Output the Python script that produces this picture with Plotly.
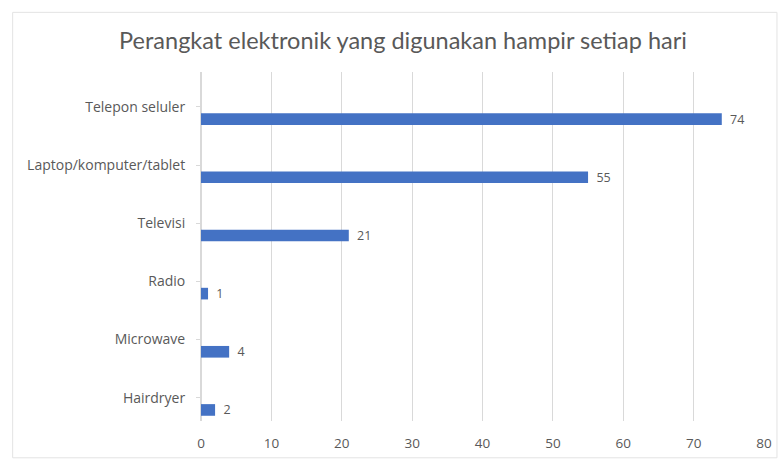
import plotly.graph_objects as go

# Device usage data (percent of respondents)
categories = ["Telepon seluler", "Laptop/komputer/tablet", "Televisi", "Radio", "Microwave", "Hairdryer"]
values = [74, 55, 21, 1, 4, 2]
x_ticks = [0, 10, 20, 30, 40, 50, 60, 70, 80]

title_text = "Perangkat elektronik yang digunakan hampir setiap hari"
bar_color = "#4472C4"
text_gray = "#595959"

positions = list(range(len(categories)))
bar_pos = [p + 0.31 for p in positions]     # bar sits in lower part of each slot
label_pos = [p + 0.1 for p in positions]

fig = go.Figure(
    go.Bar(
        x=values,
        y=bar_pos,
        orientation="h",
        width=0.2,
        marker=dict(color=bar_color, line=dict(width=0)),
        text=[str(v) for v in values],
        texttemplate="\u2009 %{text}",
        textposition="outside",
        constraintext="none",
        textfont=dict(family="Open Sans", size=12.5, color=text_gray),
        cliponaxis=False,
    )
)

fig.update_layout(
    width=784,
    height=464,
    margin=dict(l=201, r=18, t=72, b=41),
    paper_bgcolor="white",
    plot_bgcolor="white",
    showlegend=False,
    title=dict(
        text=title_text,
        x=403 / 784,
        xref="container",
        y=0.912,
        yref="container",
        xanchor="center",
        yanchor="middle",
        font=dict(family="Lato", size=23.5, color=text_gray),
    ),
    xaxis=dict(
        range=[0, 80],
        tickvals=x_ticks,
        showgrid=True,
        gridcolor="#D9D9D9",
        gridwidth=1,
        zeroline=True,
        zerolinecolor="#D9D9D9",
        showline=False,
        ticks="",
        ticklabelstandoff=12,
        tickfont=dict(family="Open Sans", size=13.5, color=text_gray),
    ),
    yaxis=dict(
        range=[len(categories) - 0.5, -0.5],
        tickvals=label_pos,
        ticktext=categories,
        showgrid=False,
        zeroline=False,
        showline=False,
        ticks="outside",
        ticklen=4,
        tickcolor="#D9D9D9",
        ticklabelstandoff=8,
        tickfont=dict(family="Open Sans", size=14, color=text_gray),
    ),
    shapes=[
        dict(
            type="rect",
            xref="paper",
            yref="paper",
            x0=-189 / 565,
            x1=779 / 565 - 201 / 565,
            y0=-37 / 351,
            y1=1 + 60 / 351,
            line=dict(color="#E3E3E3", width=1),
            fillcolor="rgba(0,0,0,0)",
            layer="below",
        )
    ],
)

fig.write_html("out.html")
